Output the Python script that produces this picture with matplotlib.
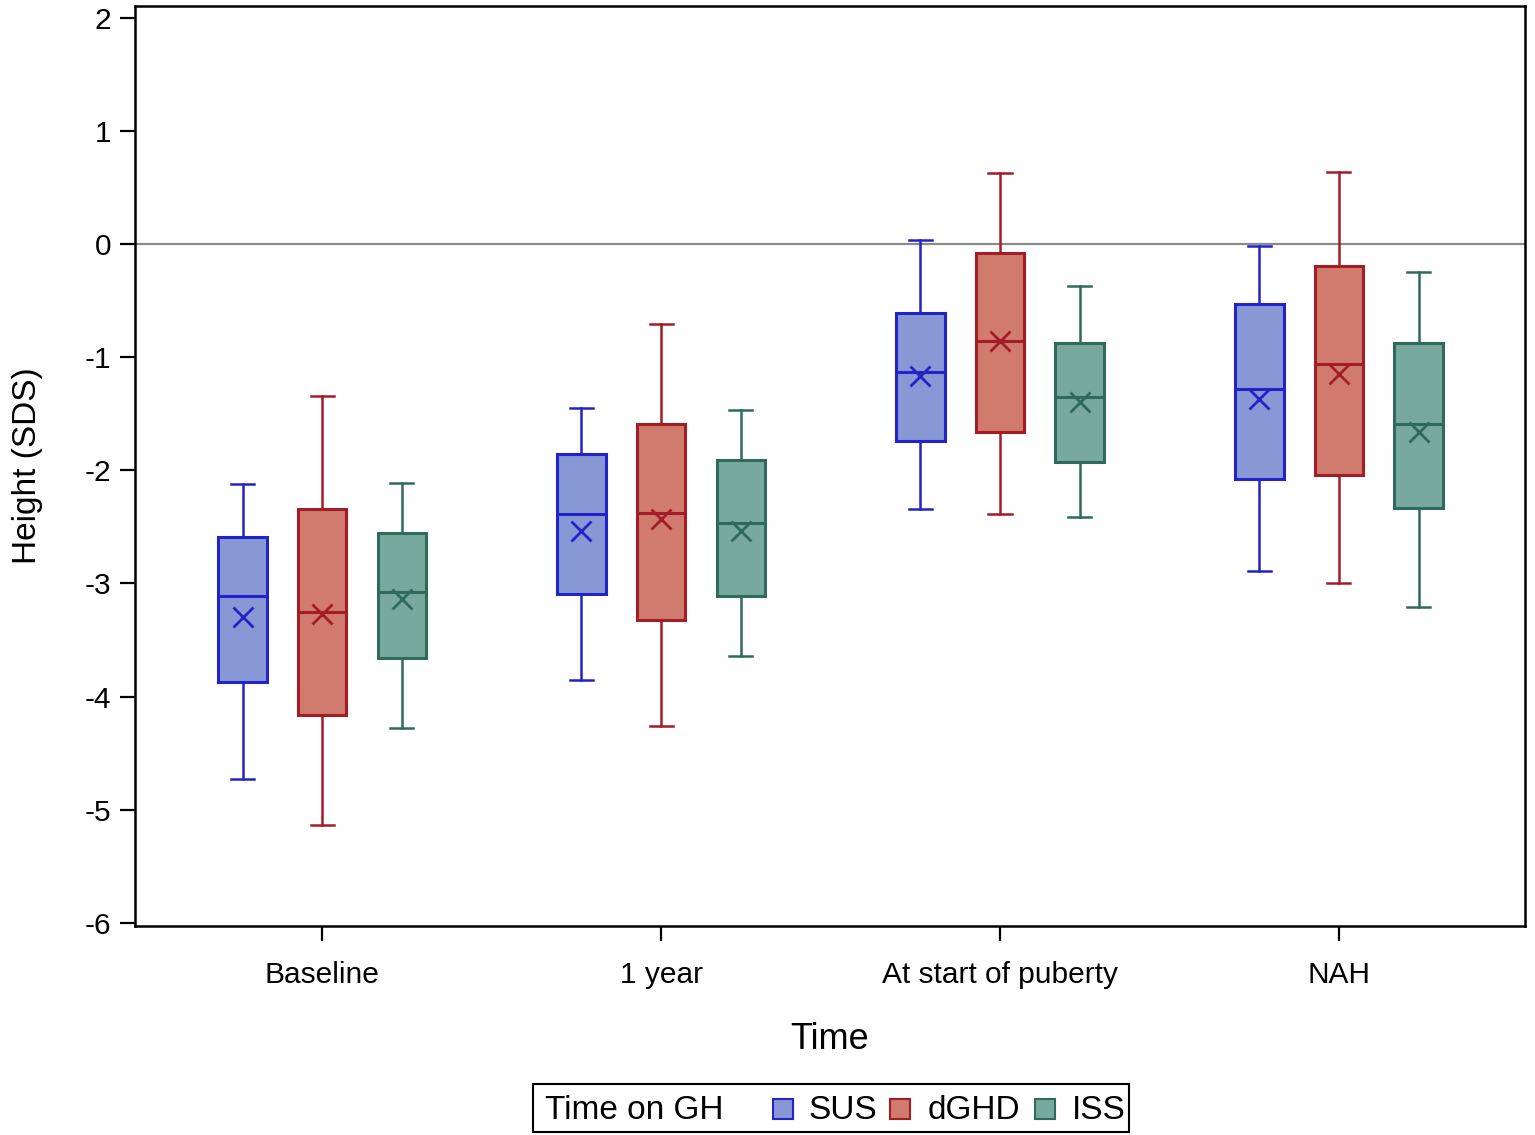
import matplotlib
matplotlib.use("Agg")
import matplotlib.pyplot as plt
from matplotlib.patches import Rectangle

plt.rcParams['font.family'] = ['Liberation Sans', 'DejaVu Sans']

# time points on the x axis
times = ['Baseline', '1 year', 'At start of puberty', 'NAH']
groups = ['SUS', 'dGHD', 'ISS']

# per group, per time point: whisker low, Q1, median, Q3, whisker high, mean
sus_low = [-4.73, -3.85, -2.34, -2.89]
sus_q1 = [-3.87, -3.09, -1.74, -2.08]
sus_med = [-3.11, -2.39, -1.13, -1.28]
sus_q3 = [-2.59, -1.86, -0.61, -0.53]
sus_high = [-2.12, -1.45, 0.04, -0.02]
sus_mean = [-3.30, -2.54, -1.17, -1.37]

dghd_low = [-5.14, -4.26, -2.39, -3.00]
dghd_q1 = [-4.16, -3.32, -1.66, -2.04]
dghd_med = [-3.25, -2.38, -0.86, -1.06]
dghd_q3 = [-2.34, -1.59, -0.08, -0.19]
dghd_high = [-1.34, -0.71, 0.63, 0.64]
dghd_mean = [-3.27, -2.43, -0.86, -1.15]

iss_low = [-4.28, -3.64, -2.41, -3.21]
iss_q1 = [-3.66, -3.11, -1.93, -2.33]
iss_med = [-3.08, -2.47, -1.35, -1.59]
iss_q3 = [-2.55, -1.91, -0.87, -0.87]
iss_high = [-2.11, -1.47, -0.37, -0.25]
iss_mean = [-3.14, -2.54, -1.40, -1.66]

data = {
    'SUS': (sus_low, sus_q1, sus_med, sus_q3, sus_high, sus_mean),
    'dGHD': (dghd_low, dghd_q1, dghd_med, dghd_q3, dghd_high, dghd_mean),
    'ISS': (iss_low, iss_q1, iss_med, iss_q3, iss_high, iss_mean),
}
fills = {'SUS': '#8898D4', 'dGHD': '#D07B6D', 'ISS': '#78A99D'}
edges = {'SUS': '#2323C8', 'dGHD': '#A31D27', 'ISS': '#2F6A5C'}
offsets = {'SUS': -0.235, 'dGHD': 0.0, 'ISS': 0.235}

fig = plt.figure(figsize=(15.35, 11.35), dpi=100)
ax = fig.add_axes([0.088, 0.184, 0.9055, 0.8107])

ax.axhline(0, color='#8a8a8a', lw=1.6, zorder=0)

for g in groups:
    low, q1, med, q3, high, mean = data[g]
    stats = []
    for i in range(len(times)):
        stats.append({'whislo': low[i], 'q1': q1[i], 'med': med[i], 'q3': q3[i],
                      'whishi': high[i], 'mean': mean[i], 'fliers': []})
    pos = [i + offsets[g] for i in range(len(times))]
    c = edges[g]
    ax.bxp(stats, positions=pos, widths=0.143, capwidths=0.068, patch_artist=True,
           showmeans=True, showfliers=False, manage_ticks=False,
           boxprops=dict(facecolor=fills[g], edgecolor=c, lw=2.2),
           medianprops=dict(color=c, lw=2.2),
           whiskerprops=dict(color=c, lw=1.8),
           capprops=dict(color=c, lw=1.8),
           meanprops=dict(marker='x', markersize=14, markeredgecolor=c, markeredgewidth=2.0))

ax.set_xlim(-0.552, 3.549)
ax.set_ylim(-6.03, 2.105)
ax.set_yticks(range(-6, 3))
ax.set_yticklabels([str(v) for v in range(-6, 3)])
ax.set_xticks(range(len(times)))
ax.set_xticklabels(times)
ax.tick_params(axis='both', labelsize=21.5, width=1.6, length=11, pad=6)
ax.tick_params(axis='x', pad=14)
for s in ax.spines.values():
    s.set_linewidth(1.8)

ax.set_xlabel('Time', fontsize=26, labelpad=24)
ax.set_ylabel('Height (SDS)', fontsize=24, labelpad=30)

# legend laid out on one line, as in the original
fig.patches.append(Rectangle((0.3475, 0.0025), 0.388, 0.0425, transform=fig.transFigure,
                             facecolor='white', edgecolor='black', lw=1.5))
ly = 0.0215
fig.text(0.355, ly, 'Time on GH', fontsize=24, va='center', ha='left')
for g, xs, xt in [('SUS', 0.5035, 0.527), ('dGHD', 0.580, 0.604), ('ISS', 0.6745, 0.698)]:
    fig.patches.append(Rectangle((xs, ly - 0.0075), 0.013, 0.0175, transform=fig.transFigure,
                                 facecolor=fills[g], edgecolor=edges[g], lw=1.5))
    fig.text(xt, ly, g, fontsize=24, va='center', ha='left')

fig.savefig('out.png', dpi=100)
